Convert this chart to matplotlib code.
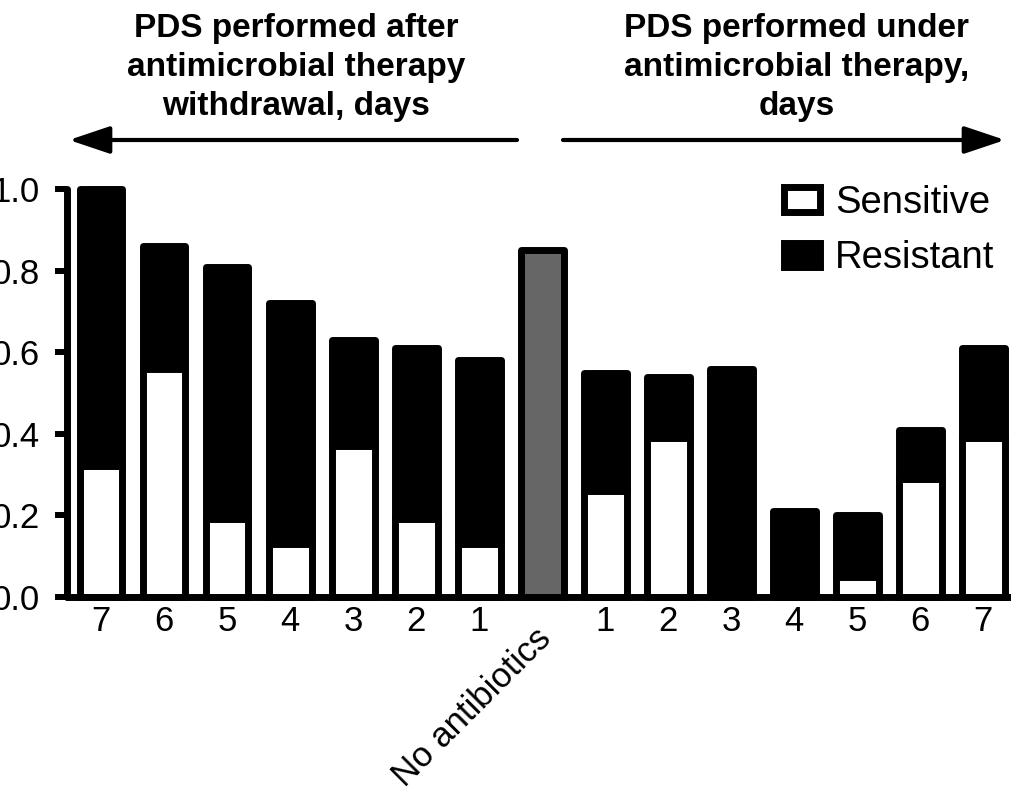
import matplotlib
matplotlib.use('Agg')
import matplotlib.pyplot as plt
from matplotlib.patches import Patch
from matplotlib.transforms import ScaledTranslation
import numpy as np

plt.rcParams['font.family'] = ['Liberation Sans', 'DejaVu Sans']

# Data (fraction of PDS results)
categories = ['7', '6', '5', '4', '3', '2', '1', 'No antibiotics',
              '1', '2', '3', '4', '5', '6', '7']
total = [1.00, 0.86, 0.81, 0.72, 0.63, 0.61, 0.58, 0.85,
         0.55, 0.54, 0.56, 0.21, 0.20, 0.41, 0.61]
sensitive = [0.32, 0.56, 0.19, 0.13, 0.37, 0.19, 0.13, 0.0,
             0.26, 0.39, 0.0, 0.0, 0.05, 0.29, 0.39]
no_ab_index = 7

W, H = 1011, 789
fig = plt.figure(figsize=(W / 100, H / 100), dpi=100)
ax = fig.add_axes([67 / W, 1 - 597 / H, 1 - 67 / W, (597 - 189) / H])

x = np.arange(len(categories))
lw = 5
bw = 0.68

for i in x:
    if i == no_ab_index:
        ax.bar(i, total[i], width=bw, color='#666666', edgecolor='black',
               linewidth=lw, joinstyle='round', zorder=3, clip_on=False)
        continue
    resist = total[i] - sensitive[i]
    ax.bar(i, resist, bottom=sensitive[i], width=bw, color='black',
           edgecolor='black', linewidth=lw, joinstyle='round', zorder=3,
           clip_on=False)
    if sensitive[i] > 0:
        ax.bar(i, sensitive[i], width=bw, color='white', edgecolor='black',
               linewidth=lw, zorder=4, clip_on=False)

ax.set_xlim(-0.54, 14.44)
ax.set_ylim(0, 1.0)
ax.set_yticks([0, 0.2, 0.4, 0.6, 0.8, 1.0])
ax.set_yticklabels(['0.0', '0.2', '0.4', '0.6', '0.8', '1.0'])
ax.set_xticks(x)
ax.set_xticklabels(categories)

for s in ['top', 'right']:
    ax.spines[s].set_visible(False)
for s in ['left', 'bottom']:
    ax.spines[s].set_linewidth(5)
    ax.spines[s].set_capstyle('round')
    ax.spines[s].set_zorder(5)

ax.tick_params(axis='y', length=8.6, width=4.3, pad=11, labelsize=25)
ax.tick_params(axis='x', length=0, pad=6, labelsize=25)

lbl = ax.get_xticklabels()[no_ab_index]
lbl.set_rotation(45)
lbl.set_ha('right')
lbl.set_va('top')
lbl.set_rotation_mode('anchor')
lbl.set_fontsize(25)
lbl.set_transform(lbl.get_transform() + ScaledTranslation(-0.08, -0.17, fig.dpi_scale_trans))

handles = [Patch(facecolor='white', edgecolor='black', linewidth=lw, label='Sensitive'),
           Patch(facecolor='black', edgecolor='black', linewidth=lw, label='Resistant')]
fig.legend(handles=handles, loc='upper left', bbox_to_anchor=(784 / W, 1 - 185 / H),
           frameon=False, fontsize=27.5, handlelength=0.94, handleheight=0.6,
           handletextpad=0.4, labelspacing=0.5, borderpad=0, borderaxespad=0)

# Header texts with direction arrows (baseline of the last line)
fig.text(296 / W, 1 - 115 / H, 'PDS performed after\nantimicrobial therapy\nwithdrawal, days',
         ha='center', va='baseline', fontsize=24, fontweight='bold', linespacing=1.33)
fig.text(797 / W, 1 - 115 / H, 'PDS performed under\nantimicrobial therapy,\ndays',
         ha='center', va='baseline', fontsize=24, fontweight='bold', linespacing=1.33)

arrow = dict(arrowstyle='-|>,head_length=1.25,head_width=0.42', lw=3, color='black',
             mutation_scale=20, shrinkA=0, shrinkB=0)
ay = 1 - 140 / H
ax.annotate('', xy=(69 / W, ay), xytext=(517 / W, ay), xycoords='figure fraction',
            textcoords='figure fraction', arrowprops=arrow)
ax.annotate('', xy=(1005 / W, ay), xytext=(563 / W, ay), xycoords='figure fraction',
            textcoords='figure fraction', arrowprops=arrow)

fig.savefig('out.png', dpi=100)
